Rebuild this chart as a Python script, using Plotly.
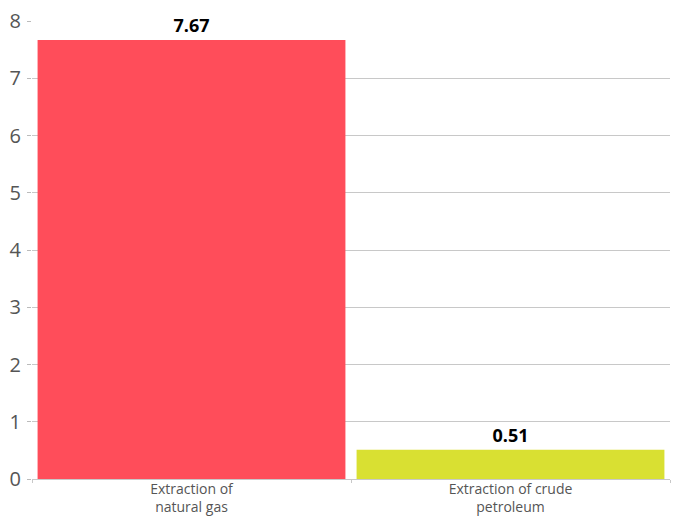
import plotly.graph_objects as go

categories = ["Extraction of<br>natural gas", "Extraction of crude<br>petroleum"]
values = [7.67, 0.51]
labels = ["7.67", "0.51"]
colors = ["#FF4D5A", "#D9E032"]

fig = go.Figure(go.Bar(
    x=categories, y=values, marker_color=colors, marker_line_width=0,
    text=labels, textposition="outside", cliponaxis=False,
    textfont=dict(family="Open Sans", size=18, color="#000000", weight="bold"),
))
fig.update_layout(
    width=678, height=517,
    margin=dict(l=32, r=8, t=21, b=38),
    paper_bgcolor="white", plot_bgcolor="white",
    bargap=0.035, showlegend=False,
    font=dict(family="Open Sans", color="#555555"),
)
fig.update_yaxes(range=[0, 8], dtick=1, showgrid=True, gridcolor="#C8C8C8", gridwidth=1,
                 ticks="outside", ticklen=4, tickcolor="#BBBBBB", zeroline=False,
                 tickfont=dict(size=20, color="#555555"), showline=False,
                 automargin=False, ticklabelstandoff=2)
fig.update_xaxes(showline=True, linecolor="#C8C8C8", ticks="outside", tickson="boundaries",
                 ticklen=3, tickcolor="#C8C8C8", tickfont=dict(size=14, color="#555555"),
                 automargin=False, ticklabelstandoff=-3)
fig.write_html("out.html", config={"displayModeBar": False},
               post_script="document.body.style.margin='0';document.body.style.overflow='hidden';")
